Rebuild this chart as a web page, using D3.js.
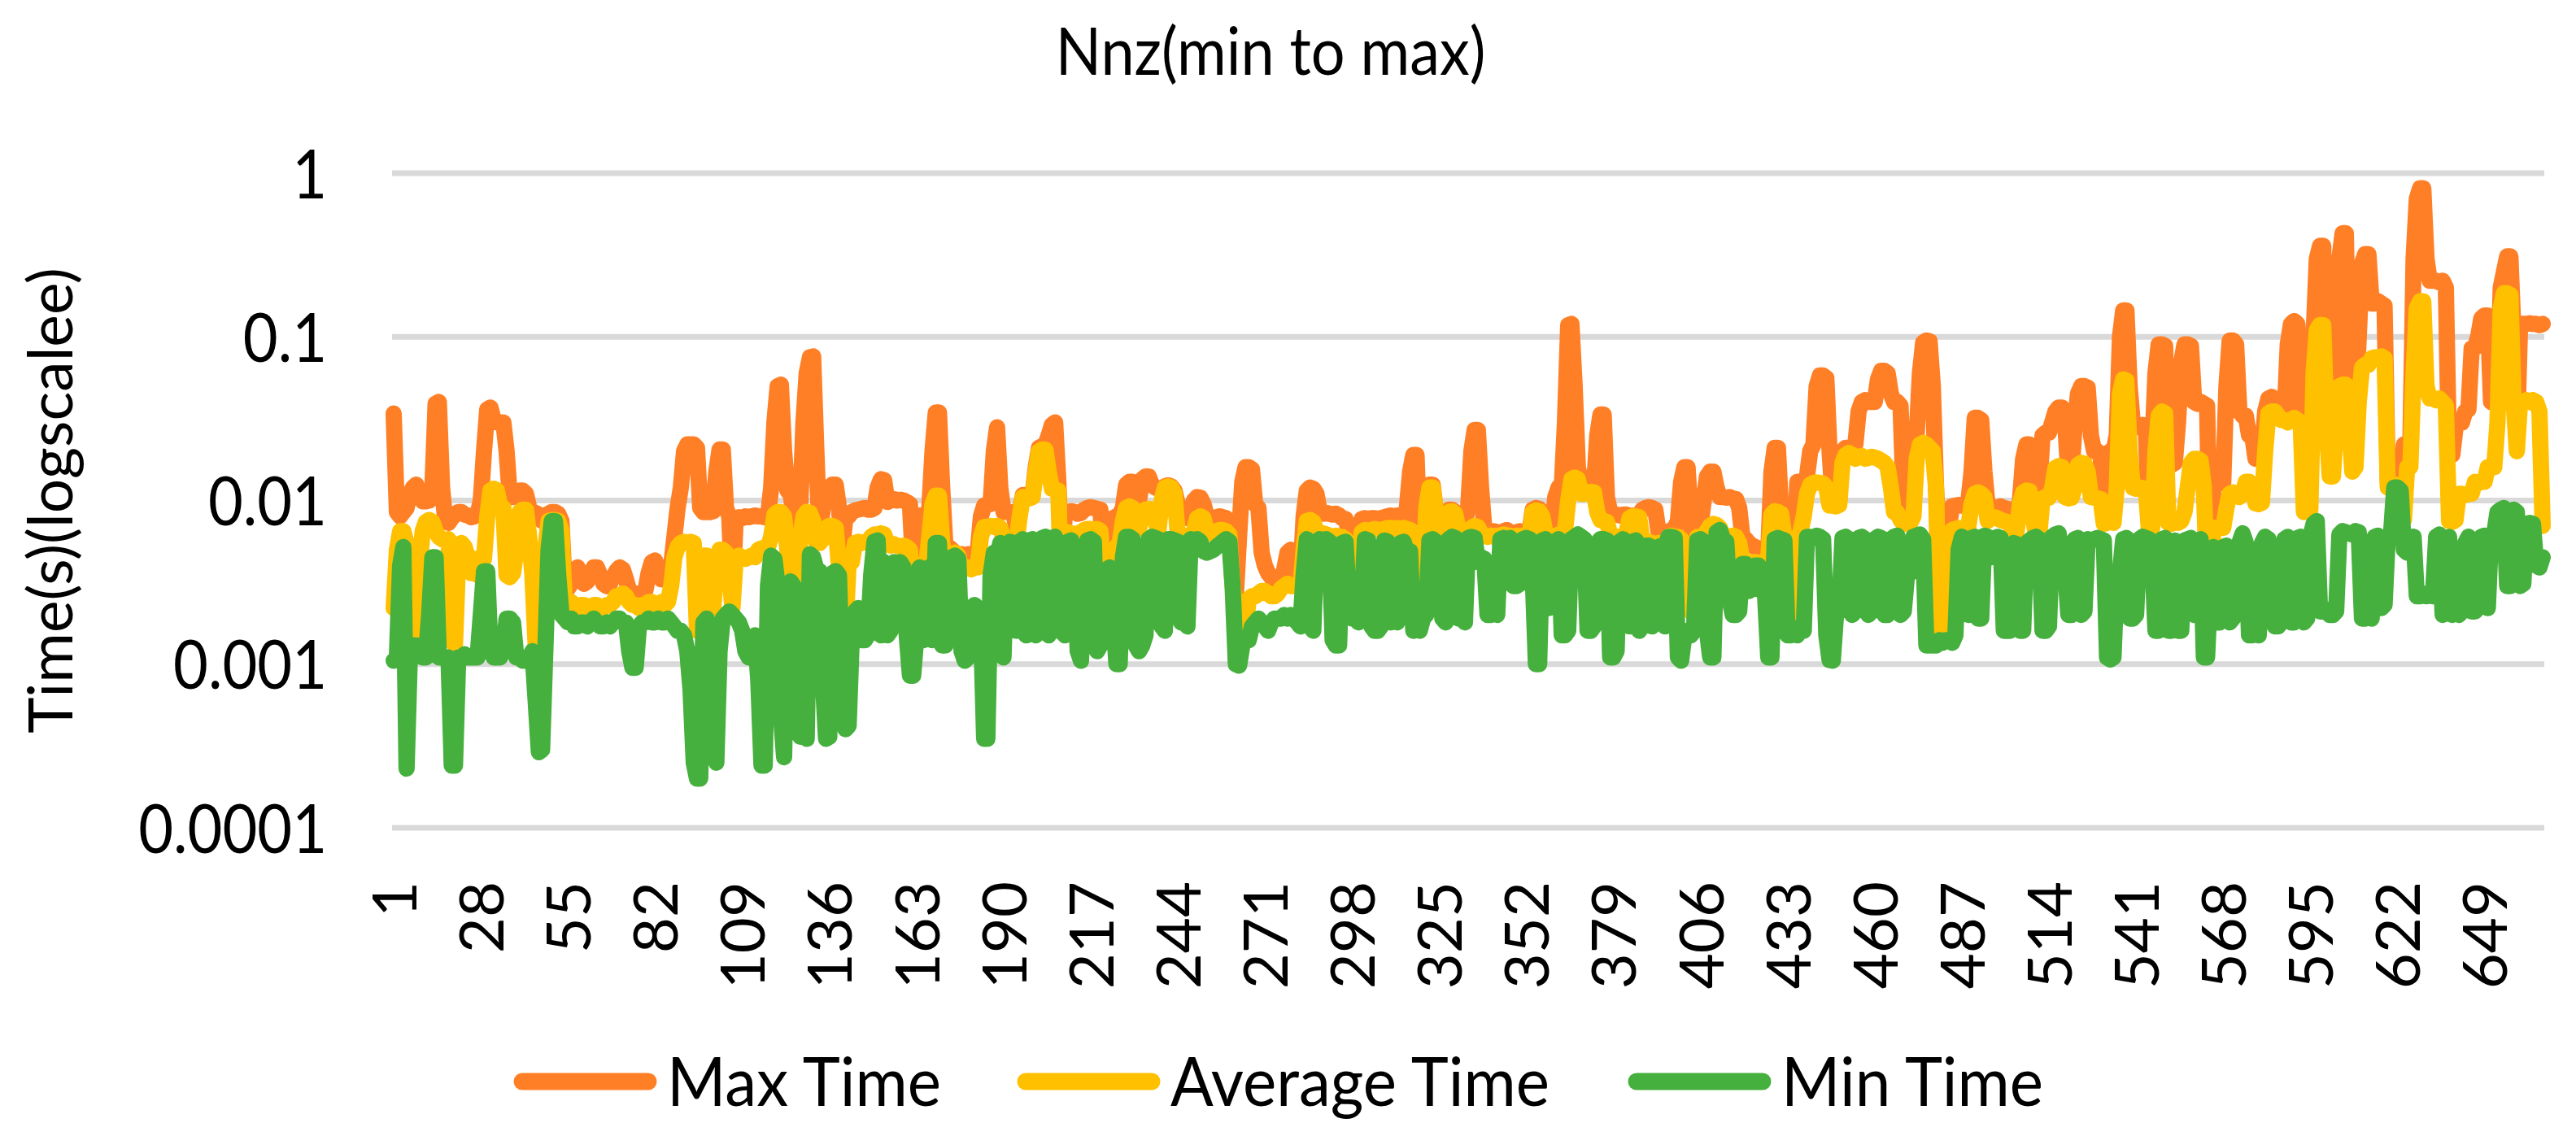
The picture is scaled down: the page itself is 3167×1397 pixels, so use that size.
<!DOCTYPE html>
<html>
<head>
<meta charset="utf-8">
<script src="https://cdn.jsdelivr.net/npm/d3@7"></script>
<style>
  html, body { margin: 0; padding: 0; background: #fff; }
  svg { display: block; }
  text { font-family: Lato, "Open Sans", sans-serif; fill: #000; }
</style>
</head>
<body>
<svg id="chart"></svg>
<script>
// values (seconds), one per matrix, ordered by nnz
const maxTime = [
  0.034,0.0085,0.008,0.0085,0.009,0.011,0.012,0.0125,0.0105,0.0099,
  0.0099,0.01,0.012,0.039,0.04,0.012,0.0075,0.0073,0.0078,0.0082,
  0.0085,0.0085,0.0082,0.0081,0.0079,0.008,0.0082,0.01,0.02,0.036,
  0.037,0.031,0.03,0.03,0.03,0.02,0.0105,0.0105,0.011,0.0115,
  0.0115,0.011,0.009,0.0083,0.0084,0.0082,0.0075,0.0081,0.0083,0.0085,
  0.0085,0.0083,0.0075,0.003,0.0029,0.0031,0.0037,0.0039,0.0035,0.0031,
  0.0032,0.0036,0.0039,0.0039,0.0035,0.0031,0.003,0.0031,0.0034,0.0037,
  0.0039,0.0038,0.0033,0.0028,0.0027,0.0027,0.0027,0.0027,0.0028,0.0036,
  0.0042,0.0043,0.0038,0.0033,0.0033,0.0034,0.004,0.006,0.009,0.012,
  0.02,0.022,0.022,0.022,0.021,0.009,0.0085,0.0085,0.0085,0.0086,
  0.015,0.0205,0.0205,0.009,0.008,0.0027,0.0078,0.0079,0.0078,0.008,
  0.0079,0.008,0.0081,0.008,0.008,0.0079,0.008,0.012,0.03,0.05,
  0.051,0.02,0.0115,0.011,0.008,0.0025,0.009,0.03,0.06,0.075,
  0.076,0.02,0.006,0.009,0.012,0.011,0.0125,0.0125,0.009,0.005,
  0.0079,0.008,0.0085,0.0087,0.0088,0.0089,0.009,0.0088,0.0088,0.009,
  0.012,0.0135,0.0133,0.0098,0.01,0.0102,0.01,0.0101,0.01,0.0098,
  0.0095,0.004,0.008,0.0081,0.008,0.0079,0.009,0.02,0.0345,0.0345,
  0.012,0.0052,0.0052,0.005,0.0048,0.0047,0.0047,0.0046,0.0047,0.0046,
  0.0047,0.0048,0.008,0.0093,0.0095,0.0095,0.02,0.028,0.012,0.0085,
  0.0086,0.0085,0.0084,0.0068,0.0085,0.0108,0.0108,0.0107,0.0107,0.016,
  0.021,0.0215,0.022,0.025,0.029,0.03,0.013,0.0042,0.0082,0.0085,
  0.0086,0.0085,0.0083,0.0084,0.0088,0.009,0.0091,0.009,0.0089,0.0088,
  0.005,0.0075,0.0077,0.0078,0.008,0.0082,0.009,0.0125,0.013,0.013,
  0.0068,0.01,0.0135,0.014,0.014,0.0125,0.012,0.0119,0.0118,0.0122,
  0.0124,0.0122,0.0115,0.0095,0.008,0.0079,0.0078,0.0085,0.01,0.0105,
  0.0104,0.0095,0.008,0.0079,0.0078,0.0079,0.008,0.0079,0.0078,0.0074,
  0.004,0.0026,0.006,0.013,0.016,0.016,0.0155,0.0095,0.009,0.0048,
  0.004,0.0036,0.0034,0.0032,0.0031,0.0031,0.0038,0.0048,0.005,0.0049,
  0.003,0.0032,0.008,0.0115,0.012,0.0118,0.011,0.0085,0.0083,0.0084,
  0.0083,0.0082,0.0083,0.0081,0.0078,0.0077,0.0065,0.0042,0.004,0.0065,
  0.0077,0.0078,0.0077,0.0078,0.0078,0.0077,0.0078,0.0079,0.008,0.0081,
  0.008,0.0081,0.0079,0.0078,0.009,0.015,0.019,0.019,0.005,0.0042,
  0.01,0.0125,0.0125,0.0085,0.0083,0.0085,0.0084,0.0088,0.0088,0.0085,
  0.0082,0.008,0.0075,0.009,0.02,0.027,0.027,0.012,0.0068,0.0065,
  0.0064,0.0065,0.0064,0.0063,0.0065,0.0066,0.0064,0.0063,0.0064,0.0065,
  0.0064,0.0063,0.0064,0.0088,0.009,0.0089,0.0084,0.0075,0.0066,0.0068,
  0.0105,0.012,0.012,0.03,0.118,0.12,0.05,0.016,0.013,0.0115,
  0.0118,0.012,0.012,0.025,0.0335,0.0335,0.0105,0.0085,0.0083,0.0082,
  0.0081,0.0082,0.0082,0.008,0.0081,0.008,0.0082,0.0088,0.009,0.0091,
  0.009,0.0088,0.0064,0.0063,0.0062,0.0064,0.0066,0.0068,0.0075,0.013,
  0.016,0.016,0.0075,0.003,0.0063,0.007,0.01,0.014,0.015,0.015,
  0.012,0.0105,0.0105,0.0104,0.0105,0.0103,0.0102,0.009,0.006,0.0058,
  0.0055,0.0053,0.0052,0.005,0.005,0.0049,0.0048,0.015,0.021,0.021,
  0.0085,0.0075,0.0085,0.008,0.0038,0.013,0.013,0.013,0.014,0.02,
  0.022,0.05,0.058,0.058,0.056,0.02,0.01,0.0098,0.0099,0.02,
  0.021,0.021,0.021,0.022,0.035,0.04,0.041,0.04,0.04,0.04,
  0.055,0.062,0.062,0.06,0.045,0.04,0.04,0.038,0.01,0.0085,
  0.0086,0.0087,0.025,0.06,0.092,0.095,0.094,0.05,0.012,0.005,
  0.0026,0.0045,0.007,0.0092,0.0093,0.0094,0.0093,0.0095,0.0098,0.015,
  0.032,0.032,0.031,0.015,0.0092,0.009,0.0091,0.009,0.0092,0.009,
  0.0089,0.0088,0.0076,0.0078,0.01,0.018,0.022,0.022,0.015,0.012,
  0.012,0.025,0.026,0.026,0.03,0.035,0.037,0.037,0.03,0.015,
  0.015,0.03,0.045,0.05,0.05,0.049,0.025,0.02,0.02,0.019,
  0.0075,0.019,0.02,0.02,0.025,0.1,0.145,0.145,0.05,0.029,
  0.029,0.028,0.029,0.028,0.0075,0.02,0.06,0.09,0.09,0.088,
  0.0165,0.0165,0.017,0.03,0.07,0.09,0.09,0.088,0.04,0.039,
  0.04,0.039,0.038,0.004,0.0125,0.0128,0.013,0.0128,0.05,0.095,
  0.095,0.09,0.035,0.033,0.033,0.025,0.025,0.018,0.018,0.019,
  0.035,0.042,0.043,0.042,0.04,0.035,0.032,0.09,0.12,0.125,
  0.12,0.03,0.02,0.02,0.025,0.1,0.3,0.36,0.36,0.03,
  0.025,0.02,0.05,0.3,0.43,0.43,0.04,0.03,0.035,0.1,
  0.28,0.32,0.32,0.16,0.16,0.165,0.16,0.155,0.013,0.013,
  0.0128,0.0128,0.0125,0.022,0.022,0.022,0.3,0.7,0.81,0.81,
  0.3,0.22,0.22,0.22,0.215,0.22,0.2,0.019,0.019,0.028,
  0.03,0.03,0.035,0.036,0.085,0.086,0.1,0.13,0.135,0.135,
  0.04,0.04,0.045,0.2,0.25,0.31,0.31,0.1,0.023,0.12,
  0.12,0.12,0.121,0.12,0.12,0.118,0.12
];

const avgTime = [
  0.0022,0.005,0.0065,0.0065,0.0055,0.004,0.002,0.0016,0.004,0.0065,
  0.0074,0.0076,0.0074,0.0065,0.006,0.0058,0.0057,0.0058,0.0014,0.0013,
  0.0045,0.0055,0.0052,0.0045,0.0036,0.0044,0.0035,0.0045,0.0044,0.008,
  0.0115,0.0118,0.0115,0.0092,0.009,0.0035,0.0034,0.0036,0.005,0.0085,
  0.0088,0.0088,0.006,0.0035,0.0013,0.00125,0.0014,0.005,0.0075,0.0076,
  0.0076,0.0075,0.0065,0.0024,0.0023,0.0024,0.0023,0.0022,0.0023,0.0023,
  0.0022,0.0022,0.0023,0.0023,0.0022,0.0022,0.0023,0.0023,0.0024,0.0026,
  0.0026,0.0027,0.0026,0.0024,0.0023,0.0023,0.0022,0.0023,0.0023,0.0024,
  0.0024,0.0023,0.0023,0.0024,0.0023,0.0024,0.003,0.0045,0.0052,0.0055,
  0.0056,0.0055,0.0056,0.0055,0.0016,0.004,0.0046,0.0046,0.004,0.0021,
  0.004,0.005,0.005,0.0048,0.0035,0.0022,0.0045,0.0046,0.0045,0.0044,
  0.0045,0.0046,0.0045,0.005,0.0051,0.005,0.0052,0.006,0.0082,0.0085,
  0.0085,0.008,0.005,0.0036,0.0033,0.0025,0.006,0.008,0.0085,0.0084,
  0.0075,0.0055,0.0055,0.0058,0.0068,0.007,0.007,0.0068,0.004,0.0015,
  0.0016,0.0042,0.0042,0.0055,0.0056,0.0055,0.0056,0.0055,0.006,0.0062,
  0.0062,0.0063,0.0062,0.0055,0.0053,0.0054,0.0053,0.0052,0.0053,0.0052,
  0.005,0.0021,0.004,0.004,0.0041,0.004,0.006,0.0095,0.0107,0.0107,
  0.0055,0.0041,0.0046,0.0047,0.0048,0.0046,0.0038,0.0039,0.0039,0.0038,
  0.0039,0.0039,0.006,0.0069,0.0069,0.007,0.0069,0.007,0.0068,0.0058,
  0.0058,0.0057,0.0056,0.0055,0.008,0.0105,0.0104,0.0103,0.0105,0.015,
  0.02,0.0205,0.0204,0.015,0.0118,0.0117,0.0115,0.002,0.0063,0.0064,
  0.0063,0.0062,0.0063,0.0064,0.0066,0.0067,0.0067,0.0066,0.0067,0.0065,
  0.0036,0.0042,0.0045,0.005,0.0052,0.0055,0.0075,0.009,0.0092,0.009,
  0.0066,0.0067,0.0085,0.0088,0.0089,0.0088,0.0075,0.0065,0.01,0.012,
  0.0122,0.012,0.011,0.0062,0.006,0.006,0.0061,0.006,0.0065,0.0078,
  0.008,0.0078,0.0064,0.0063,0.0064,0.0065,0.0066,0.0066,0.0065,0.0062,
  0.003,0.0022,0.0023,0.0016,0.0017,0.0025,0.0026,0.0026,0.0027,0.0028,
  0.0028,0.0027,0.0026,0.0026,0.0027,0.0029,0.003,0.0031,0.003,0.003,
  0.003,0.0029,0.005,0.0075,0.0076,0.0074,0.0065,0.0062,0.0063,0.0062,
  0.0061,0.006,0.0061,0.006,0.006,0.0058,0.004,0.0028,0.0027,0.004,
  0.0064,0.0066,0.0065,0.0066,0.0067,0.0066,0.0066,0.0067,0.0068,0.0068,
  0.0067,0.0068,0.0067,0.0068,0.0067,0.0066,0.0064,0.0062,0.0025,0.0024,
  0.009,0.012,0.012,0.0085,0.0048,0.0046,0.006,0.0085,0.0086,0.0083,
  0.0065,0.0063,0.0062,0.0065,0.0068,0.007,0.0069,0.0063,0.0061,0.006,
  0.0061,0.006,0.0061,0.0061,0.0062,0.0061,0.0061,0.006,0.0061,0.006,
  0.0061,0.0061,0.006,0.0085,0.0087,0.0086,0.008,0.0062,0.006,0.0061,
  0.006,0.0062,0.0061,0.0065,0.01,0.0135,0.0138,0.0135,0.011,0.011,
  0.0112,0.0113,0.0112,0.0085,0.0076,0.0075,0.0074,0.0062,0.0061,0.006,
  0.006,0.0061,0.0062,0.0078,0.008,0.008,0.0079,0.0056,0.0055,0.0056,
  0.0055,0.0054,0.0055,0.0054,0.0055,0.006,0.0061,0.006,0.006,0.0058,
  0.0045,0.003,0.0021,0.002,0.006,0.006,0.0061,0.0065,0.007,0.0072,
  0.0071,0.0068,0.006,0.0061,0.006,0.0061,0.006,0.0055,0.0043,0.0042,
  0.0041,0.0042,0.0042,0.0041,0.0042,0.0041,0.0045,0.0082,0.0086,0.0085,
  0.0083,0.006,0.0059,0.0058,0.002,0.0025,0.0065,0.008,0.011,0.0125,
  0.0128,0.0129,0.0128,0.0127,0.012,0.0093,0.0093,0.0092,0.0094,0.017,
  0.019,0.0195,0.019,0.018,0.0185,0.0187,0.018,0.0182,0.0185,0.0183,
  0.018,0.0175,0.017,0.016,0.012,0.0085,0.0084,0.0076,0.0072,0.0072,
  0.0073,0.008,0.018,0.022,0.0225,0.022,0.021,0.02,0.012,0.0016,
  0.0015,0.0016,0.006,0.0066,0.0067,0.0068,0.0067,0.0068,0.0069,0.0095,
  0.011,0.0112,0.011,0.0105,0.0075,0.0078,0.0079,0.0078,0.0076,0.0075,
  0.0074,0.0072,0.006,0.0065,0.0095,0.0112,0.0115,0.0114,0.008,0.006,
  0.0062,0.0103,0.0105,0.0104,0.012,0.0158,0.0162,0.016,0.0105,0.0103,
  0.0104,0.012,0.0165,0.017,0.0168,0.015,0.0105,0.0104,0.0103,0.0102,
  0.0072,0.0073,0.0074,0.0073,0.012,0.045,0.055,0.054,0.02,0.012,
  0.0118,0.012,0.0119,0.0118,0.0065,0.0068,0.02,0.033,0.035,0.034,
  0.0073,0.0072,0.0074,0.0073,0.0075,0.0085,0.012,0.017,0.018,0.018,
  0.0175,0.012,0.0032,0.0032,0.0068,0.0068,0.0069,0.0068,0.009,0.011,
  0.0112,0.0108,0.0105,0.011,0.013,0.013,0.012,0.0096,0.0095,0.0097,
  0.02,0.034,0.035,0.035,0.033,0.031,0.031,0.03,0.031,0.032,
  0.031,0.03,0.0085,0.0086,0.0088,0.06,0.11,0.118,0.118,0.03,
  0.014,0.014,0.03,0.05,0.051,0.051,0.03,0.015,0.016,0.04,
  0.065,0.0675,0.0675,0.074,0.075,0.075,0.076,0.074,0.012,0.0125,
  0.0125,0.0125,0.012,0.0076,0.016,0.016,0.06,0.15,0.165,0.165,
  0.05,0.042,0.042,0.041,0.042,0.04,0.038,0.0075,0.0074,0.0076,
  0.011,0.011,0.0108,0.011,0.011,0.013,0.0128,0.013,0.013,0.016,
  0.0158,0.016,0.03,0.15,0.185,0.185,0.18,0.04,0.02,0.04,
  0.04,0.041,0.04,0.041,0.04,0.035,0.007
];

const minTime = [
  0.00105,0.0011,0.004,0.0052,0.00023,0.0011,0.0013,0.0013,0.0012,0.0011,
  0.0011,0.002,0.0045,0.0045,0.0011,0.0011,0.0011,0.0011,0.00024,0.00024,
  0.0011,0.0011,0.00115,0.0011,0.0011,0.0011,0.0011,0.002,0.0037,0.0037,
  0.0012,0.0011,0.0011,0.0011,0.0012,0.0019,0.0019,0.0018,0.0011,0.0011,
  0.00105,0.0011,0.0011,0.0012,0.0006,0.00029,0.0003,0.0012,0.005,0.0075,
  0.0075,0.0035,0.002,0.0019,0.0018,0.0019,0.0017,0.0017,0.0018,0.0018,
  0.0017,0.0018,0.0019,0.0018,0.0017,0.0017,0.0018,0.0017,0.0018,0.0019,
  0.0019,0.0018,0.0018,0.0012,0.00095,0.00095,0.0017,0.0018,0.0018,0.0019,
  0.0018,0.0018,0.0019,0.0018,0.0018,0.0019,0.0018,0.0017,0.0016,0.0016,
  0.0015,0.0012,0.0007,0.00025,0.0002,0.0002,0.0018,0.0019,0.0012,0.0003,
  0.00025,0.0012,0.0019,0.002,0.0021,0.002,0.0019,0.0018,0.0016,0.0012,
  0.0011,0.0013,0.0015,0.0008,0.00024,0.00024,0.003,0.0046,0.0044,0.003,
  0.0005,0.00027,0.0025,0.0032,0.003,0.0024,0.00036,0.0004,0.00035,0.0047,
  0.0045,0.0038,0.0037,0.0008,0.00035,0.00036,0.0036,0.0037,0.0035,0.0008,
  0.0004,0.00042,0.0015,0.0021,0.0022,0.0014,0.0014,0.0015,0.0035,0.0056,
  0.0057,0.0015,0.0042,0.0015,0.0016,0.0042,0.0041,0.0042,0.0039,0.0015,
  0.00085,0.00085,0.0015,0.0039,0.0014,0.0038,0.0039,0.0014,0.0055,0.0055,
  0.0013,0.0013,0.0044,0.0045,0.0046,0.0044,0.0012,0.00105,0.0011,0.0022,
  0.0023,0.0022,0.0018,0.00035,0.00035,0.0035,0.0048,0.0045,0.0055,0.0011,
  0.005,0.0056,0.0055,0.0016,0.0056,0.0058,0.0015,0.0057,0.0058,0.0015,
  0.0016,0.0059,0.006,0.0015,0.0059,0.006,0.0016,0.0016,0.0015,0.0056,
  0.0057,0.0035,0.0012,0.00105,0.003,0.0057,0.0058,0.0056,0.0012,0.0013,
  0.0036,0.0038,0.0039,0.002,0.001,0.001,0.0045,0.006,0.006,0.0058,
  0.0013,0.0012,0.0013,0.0015,0.0058,0.006,0.0059,0.0058,0.0017,0.0016,
  0.0058,0.0058,0.0057,0.0056,0.0018,0.0018,0.0017,0.0058,0.0057,0.0058,
  0.0056,0.0049,0.0048,0.0049,0.005,0.0052,0.0054,0.0056,0.0058,0.0056,
  0.003,0.001,0.00098,0.0013,0.0014,0.0014,0.0017,0.0018,0.0019,0.0018,
  0.0017,0.0016,0.0018,0.0019,0.0019,0.0019,0.002,0.0019,0.002,0.0019,
  0.0018,0.0017,0.0035,0.0058,0.0017,0.0016,0.0055,0.0058,0.0057,0.0058,
  0.0056,0.0014,0.0013,0.0013,0.0055,0.0056,0.0025,0.0019,0.0019,0.0018,
  0.002,0.0058,0.0057,0.0017,0.0016,0.0016,0.0017,0.0057,0.0056,0.0018,
  0.0019,0.0018,0.0055,0.0056,0.0048,0.0049,0.0016,0.0017,0.0016,0.0019,
  0.002,0.0057,0.0058,0.0056,0.0045,0.0019,0.0018,0.0058,0.006,0.0059,
  0.0019,0.0019,0.0018,0.0059,0.006,0.0059,0.0042,0.0045,0.0044,0.002,
  0.002,0.0021,0.002,0.0058,0.0059,0.0058,0.0059,0.003,0.003,0.0031,
  0.0058,0.0059,0.0058,0.0035,0.001,0.001,0.0057,0.0058,0.0022,0.0023,
  0.0052,0.0058,0.0015,0.0015,0.0016,0.0058,0.006,0.0062,0.006,0.0058,
  0.0016,0.0016,0.0017,0.0055,0.0058,0.0058,0.0057,0.0011,0.0011,0.0012,
  0.0056,0.0058,0.0055,0.0017,0.0056,0.0057,0.0016,0.0017,0.0053,0.0053,
  0.0017,0.0018,0.0052,0.0053,0.0017,0.006,0.006,0.0059,0.0011,0.00105,
  0.0015,0.0016,0.0015,0.0016,0.0057,0.0058,0.0056,0.0016,0.0011,0.0011,
  0.0064,0.0066,0.0058,0.0056,0.0025,0.002,0.002,0.0021,0.0041,0.0041,
  0.0028,0.0029,0.004,0.004,0.0028,0.0027,0.0011,0.0011,0.0058,0.0059,
  0.0058,0.0057,0.0015,0.0015,0.0016,0.0015,0.0017,0.0016,0.006,0.006,
  0.0059,0.0061,0.006,0.0058,0.0015,0.00106,0.00105,0.002,0.0021,0.0059,
  0.006,0.0058,0.002,0.0021,0.0059,0.006,0.0058,0.002,0.0021,0.0058,
  0.006,0.0059,0.002,0.002,0.0058,0.006,0.0061,0.002,0.0021,0.0035,
  0.0036,0.006,0.0061,0.0062,0.0058,0.0013,0.0013,0.0013,0.0013,0.0014,
  0.00135,0.0014,0.0014,0.00135,0.0015,0.005,0.006,0.0021,0.002,0.0059,
  0.006,0.0019,0.0019,0.0061,0.006,0.0045,0.0047,0.006,0.0059,0.0016,
  0.0016,0.0016,0.0055,0.0054,0.0016,0.0016,0.0055,0.0057,0.0059,0.006,
  0.0058,0.0016,0.0016,0.0017,0.006,0.0062,0.0063,0.0037,0.0038,0.002,
  0.002,0.0058,0.0059,0.002,0.0021,0.0058,0.0057,0.0058,0.0059,0.0058,
  0.0057,0.0011,0.00107,0.0011,0.0035,0.0036,0.0058,0.0059,0.0019,0.0019,
  0.002,0.0058,0.006,0.0059,0.0058,0.0045,0.0016,0.0016,0.0058,0.0059,
  0.0016,0.0016,0.0057,0.0016,0.0016,0.0057,0.0058,0.0059,0.002,0.0021,
  0.0058,0.0011,0.0011,0.003,0.0052,0.0018,0.0018,0.0052,0.0053,0.0018,
  0.0019,0.005,0.0055,0.0063,0.0055,0.0015,0.0015,0.0016,0.0015,0.0055,
  0.006,0.0058,0.0025,0.0017,0.0017,0.0018,0.0058,0.006,0.0018,0.0018,
  0.0059,0.006,0.0018,0.0019,0.006,0.0072,0.0075,0.0021,0.0022,0.0021,
  0.002,0.002,0.0021,0.0062,0.0065,0.0064,0.0063,0.0062,0.0065,0.0064,
  0.0019,0.0019,0.002,0.0019,0.006,0.0061,0.0022,0.0023,0.006,0.0062,
  0.012,0.012,0.0115,0.005,0.0048,0.005,0.006,0.0026,0.0026,0.0027,
  0.0026,0.0027,0.0026,0.006,0.0062,0.002,0.0021,0.006,0.002,0.0021,
  0.002,0.0021,0.0055,0.006,0.0021,0.0021,0.0022,0.006,0.0061,0.0022,
  0.0062,0.0063,0.0085,0.0088,0.009,0.003,0.003,0.0088,0.0085,0.003,
  0.0031,0.0072,0.0073,0.0072,0.004,0.0039,0.0045
];

const xTickLabels = [1, 28, 55, 82, 109, 136, 163, 190, 217, 244, 271, 298, 325,
  352, 379, 406, 433, 460, 487, 514, 541, 568, 595, 622, 649];
const yTickValues = [0.0001, 0.001, 0.01, 0.1, 1];
const yTickLabels = ["0.0001", "0.001", "0.01", "0.1", "1"];
const seriesNames = ["Max Time", "Average Time", "Min Time"];
const seriesColors = ["#FF7F27", "#FFC000", "#45B03D"];
const seriesValues = [maxTime, avgTime, minTime];

const width = 3167;
const height = 1397;
const plot = { left: 482, right: 3128, top: 213, bottom: 1018 };
const lineWidth = 20;

const svg = d3.select("#chart").attr("width", width).attr("height", height);
svg.append("rect").attr("width", width).attr("height", height).attr("fill", "#fff");

const categories = d3.range(1, maxTime.length + 1);

const xScale = d3.scalePoint()
  .domain(categories)
  .range([plot.left, plot.right])
  .padding(0.5);

const yScale = d3.scaleLog()
  .domain([0.0001, 1])
  .range([plot.bottom, plot.top]);

// horizontal gridlines
svg.append("g")
  .selectAll("line")
  .data(yTickValues)
  .join("line")
  .attr("x1", plot.left)
  .attr("x2", plot.right)
  .attr("y1", (d) => yScale(d))
  .attr("y2", (d) => yScale(d))
  .attr("stroke", "#D9D9D9")
  .attr("stroke-width", 7);

// y axis labels
const yAxis = d3.axisLeft(yScale)
  .tickValues(yTickValues)
  .tickFormat((d, i) => yTickLabels[i])
  .tickSize(0)
  .tickPadding(0);

svg.append("g")
  .attr("transform", `translate(402, 0)`)
  .call(yAxis)
  .call((g) => g.select(".domain").remove())
  .selectAll("text")
  .attr("font-family", "Lato, 'Open Sans', sans-serif")
  .attr("font-size", 84)
  .attr("fill", "#000")
  .attr("dy", "0.36em")
  .attr("transform", "scale(0.88,1)");

// x axis labels (rotated)
const xAxis = d3.axisBottom(xScale)
  .tickValues(xTickLabels)
  .tickSize(0)
  .tickPadding(0);

svg.append("g")
  .attr("transform", `translate(0, ${plot.bottom})`)
  .call(xAxis)
  .call((g) => g.select(".domain").remove())
  .selectAll("text")
  .attr("font-family", "Lato, 'Open Sans', sans-serif")
  .attr("font-size", 76)
  .attr("fill", "#000")
  .attr("text-anchor", "end")
  .attr("transform", "rotate(-90)")
  .attr("x", -66)
  .attr("y", 0)
  .attr("dy", "0.36em");

// series lines
const line = d3.line()
  .x((d, i) => xScale(categories[i]))
  .y((d) => yScale(d));

svg.append("g")
  .selectAll("path")
  .data(seriesValues)
  .join("path")
  .attr("d", line)
  .attr("fill", "none")
  .attr("stroke", (d, i) => seriesColors[i])
  .attr("stroke-width", lineWidth)
  .attr("stroke-linejoin", "round")
  .attr("stroke-linecap", "round");

// title
svg.append("text")
  .attr("transform", "translate(1562, 92) scale(0.9,1)")
  .attr("text-anchor", "middle")
  .attr("font-size", 82)
  .text("Nnz(min to max)");

// y axis title
svg.append("text")
  .attr("transform", `translate(62, ${(plot.top + plot.bottom) / 2}) rotate(-90)`)
  .attr("text-anchor", "middle")
  .attr("dy", "0.36em")
  .attr("font-size", 75)
  .text("Time(s)(logscalee)");

// legend
const legendY = 1330;
const legendX = [632, 1251, 2002];
const legend = svg.append("g")
  .selectAll("g")
  .data(seriesNames)
  .join("g")
  .attr("transform", (d, i) => `translate(${legendX[i]}, ${legendY})`);

legend.append("line")
  .attr("x1", 10)
  .attr("x2", 165)
  .attr("stroke", (d, i) => seriesColors[i])
  .attr("stroke-width", 21)
  .attr("stroke-linecap", "round");

legend.append("text")
  .attr("transform", "translate(188, 0) scale(0.93,1)")
  .attr("dy", "0.36em")
  .attr("font-size", 84)
  .text((d) => d);
</script>
</body>
</html>
